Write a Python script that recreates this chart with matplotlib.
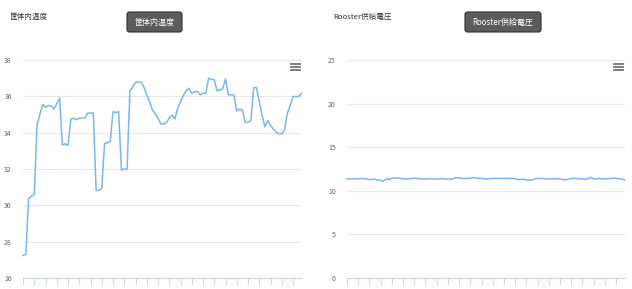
import matplotlib
matplotlib.use("Agg")
import matplotlib.pyplot as plt
from matplotlib.patches import FancyBboxPatch
from matplotlib.lines import Line2D
from matplotlib.transforms import IdentityTransform

plt.rcParams['font.family'] = ['Noto Sans CJK JP', 'DejaVu Sans']

# ---- data ----
temp_title = "筐体内温度"
volt_title = "Rooster供給電圧"

temperature = [
    27.24, 27.3, 30.38, 30.5, 30.6, 34.42, 35.0, 35.56, 35.4, 35.49,
    35.47, 35.3, 35.6, 35.9, 33.32, 33.39, 33.3, 34.74, 34.8, 34.71,
    34.8, 34.8, 34.8, 35.08, 35.08, 35.08, 30.82, 30.82, 30.93, 33.4,
    33.45, 33.5, 35.16, 35.1, 35.16, 31.94, 32.0, 32.0, 36.3, 36.5,
    36.78, 36.78, 36.78, 36.5, 36.08, 35.71, 35.25, 35.05, 34.8, 34.48,
    34.48, 34.55, 34.8, 34.97, 34.75, 35.35, 35.7, 36.04, 36.3, 36.45,
    36.17, 36.26, 36.26, 36.08, 36.17, 36.17, 36.99, 36.95, 36.9, 36.3,
    36.35, 36.41, 36.96, 36.08, 36.08, 36.08, 35.2, 35.29, 35.25, 34.57,
    34.57, 34.66, 36.48, 36.48, 35.71, 34.97, 34.33, 34.66, 34.4, 34.2,
    34.02, 33.95, 33.93, 34.15, 35.07, 35.5, 35.99, 35.99, 35.99, 36.17,
]

voltage = [
    11.36, 11.36, 11.36, 11.38, 11.38, 11.4, 11.42, 11.36, 11.28, 11.32,
    11.32, 11.25, 11.18, 11.13, 11.36, 11.32, 11.4, 11.5, 11.44, 11.42,
    11.38, 11.36, 11.38, 11.42, 11.44, 11.4, 11.4, 11.36, 11.34, 11.36,
    11.4, 11.36, 11.32, 11.38, 11.4, 11.36, 11.34, 11.32, 11.4, 11.52,
    11.46, 11.42, 11.4, 11.42, 11.44, 11.52, 11.46, 11.44, 11.42, 11.38,
    11.36, 11.4, 11.42, 11.42, 11.42, 11.42, 11.42, 11.42, 11.42, 11.42,
    11.38, 11.28, 11.3, 11.32, 11.26, 11.22, 11.24, 11.36, 11.42, 11.42,
    11.4, 11.38, 11.38, 11.36, 11.38, 11.4, 11.36, 11.3, 11.26, 11.32,
    11.42, 11.44, 11.4, 11.38, 11.36, 11.32, 11.4, 11.55, 11.34, 11.38,
    11.42, 11.38, 11.36, 11.38, 11.42, 11.44, 11.42, 11.38, 11.34, 11.28,
]

temp_yticks = [26, 28, 30, 32, 34, 36, 38]
volt_yticks = [0, 5, 10, 15, 20, 25]

W, H = 632, 289
fig = plt.figure(figsize=(W / 100, H / 100), dpi=100)
fig.patch.set_facecolor("white")

LINE = "#7cb5ec"
GRID = "#e6e6e6"
AXIS = "#ccd6eb"
LABEL = "#666666"


def px_axes(x0, x1, ytop, ybot):
    return fig.add_axes([x0 / W, 1 - ybot / H, (x1 - x0) / W, (ybot - ytop) / H])


def style(ax, yticks, n):
    ax.set_facecolor("none")
    for s in ("top", "right", "left"):
        ax.spines[s].set_visible(False)
    ax.spines["bottom"].set_color(AXIS)
    ax.spines["bottom"].set_linewidth(0.8)
    ax.set_yticks(yticks)
    ax.set_ylim(yticks[0], yticks[-1])
    ax.grid(axis="y", color=GRID, linewidth=0.8)
    ax.set_axisbelow(True)
    ax.tick_params(axis="y", length=0, labelsize=5, labelcolor=LABEL, pad=8)
    ax.set_xticks(range(0, n, 4))
    ax.set_xticklabels([])
    ax.tick_params(axis="x", length=5, color=AXIS, width=0.8, direction="out")
    ax.set_xlim(0, n - 0.8)


ax1 = px_axes(23, 302, 60, 278)
ax1.plot(range(len(temperature)), temperature, color=LINE, lw=1.1, clip_on=False)
style(ax1, temp_yticks, len(temperature))

ax2 = px_axes(347, 625, 60, 278)
ax2.plot(range(len(voltage)), voltage, color=LINE, lw=1.1, clip_on=False)
style(ax2, volt_yticks, len(voltage))

# titles
fig.text(10 / W, 1 - 17 / H, temp_title, fontsize=5.5, color="#333333", va="center", ha="left")
fig.text(333 / W, 1 - 17 / H, volt_title, fontsize=5.5, color="#333333", va="center", ha="left")

# dark label boxes
ident = IdentityTransform()
for (bx0, bx1, txt) in [(127, 182, temp_title), (465, 541, volt_title)]:
    box = FancyBboxPatch((bx0, H - 32), bx1 - bx0, 20,
                         boxstyle="round,pad=0,rounding_size=2.5",
                         facecolor="#5c5c5c", edgecolor="#2e2e2e", linewidth=0.8,
                         transform=ident)
    fig.add_artist(box)
    fig.text((bx0 + bx1) / 2 / W, 1 - 22 / H, txt, fontsize=5.8, color="white",
             ha="center", va="center")

# hamburger menu icons
for hx in (291, 614):
    for hy in (64, 67, 70):
        fig.add_artist(Line2D([hx, hx + 9], [H - hy, H - hy], color="#666666",
                              linewidth=1.2, transform=ident))

fig.savefig("out.png", dpi=100, facecolor="white")
